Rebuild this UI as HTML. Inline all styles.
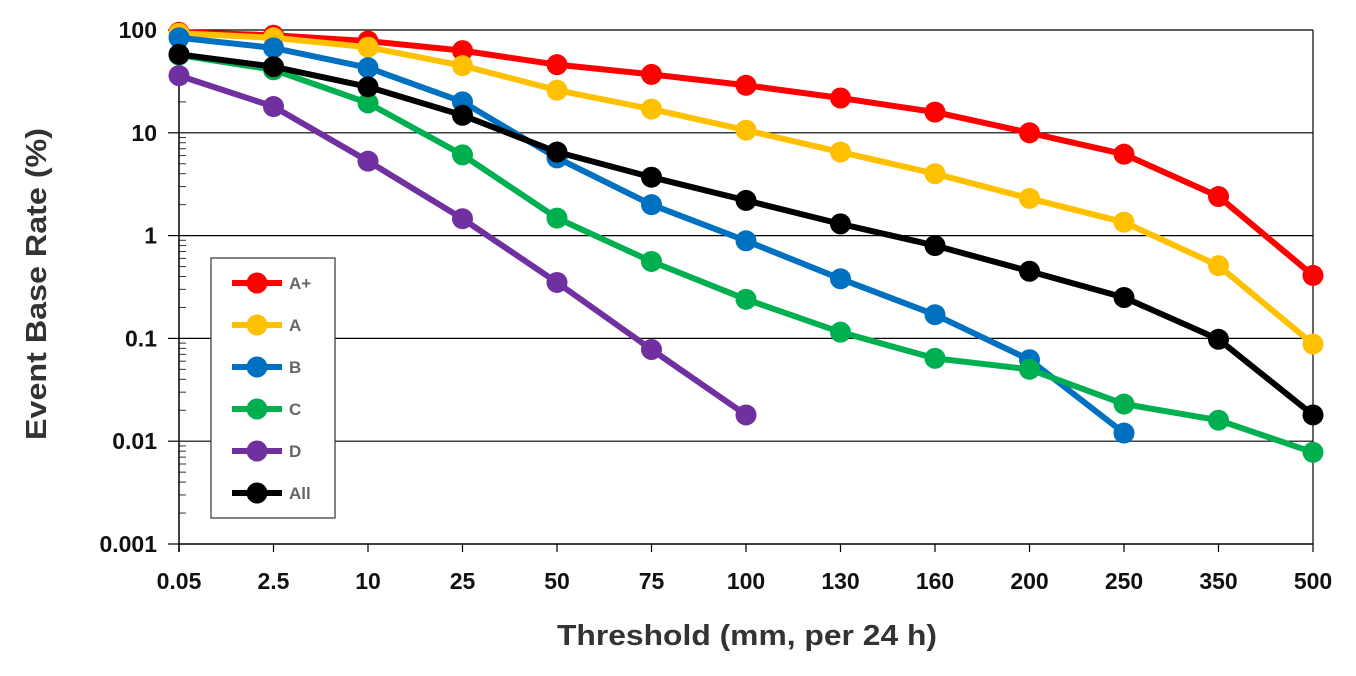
<!DOCTYPE html>
<html><head><meta charset="utf-8"><style>
body{margin:0;background:#fff;}
svg text{font-family:"Liberation Sans",sans-serif;font-weight:bold;}
</style></head><body>
<svg width="1356" height="671">
<g id="grid"></g>
<g id="axes"></g>
<g id="series"></g>
<g id="legend"></g>
<text x="747" y="645" font-size="29" fill="#333" text-anchor="middle" textLength="380" lengthAdjust="spacingAndGlyphs">Threshold (mm, per 24 h)</text>
<text transform="translate(46,284) rotate(-90)" font-size="29" fill="#333" text-anchor="middle" textLength="312" lengthAdjust="spacingAndGlyphs">Event Base Rate (%)</text>
</svg>
<script>
const categories=["0.05","2.5","10","25","50","75","100","130","160","200","250","350","500"];
const yTicks=[100,10,1,0.1,0.01,0.001];
const yTickLabels=["100","10","1","0.1","0.01","0.001"];
const seriesNames=["A+","A","B","C","D","All"];
const seriesColors=["#ff0000","#ffc000","#0070c0","#00b050","#7030a0","#000000"];
const valsAplus=[95,89,78,63,46,37,29,21.8,15.9,10,6.2,2.4,0.41];
const valsA=[93,84,68,45,26,17,10.6,6.5,4.0,2.3,1.35,0.51,0.088];
const valsB=[84,67,43,20,5.7,2.0,0.89,0.38,0.17,0.062,0.012];
const valsC=[57,41,19.5,6.1,1.48,0.56,0.24,0.115,0.064,0.05,0.023,0.016,0.0078];
const valsD=[36,18,5.3,1.46,0.35,0.078,0.018];
const valsAll=[58,44,28,14.8,6.5,3.7,2.2,1.3,0.8,0.45,0.25,0.098,0.018];
const allSeries=[valsAplus,valsA,valsB,valsC,valsD,valsAll];
const NS="http://www.w3.org/2000/svg";
const X0=179,X1=1313,Y100=30,DEC=102.8;
const xs=i=>X0+i*(X1-X0)/(categories.length-1);
const ys=v=>Y100+(2-Math.log10(v))*DEC;
function mk(p,t,a){const e=document.createElementNS(NS,t);for(const k in a)e.setAttribute(k,a[k]);p.appendChild(e);return e;}
const grid=document.getElementById('grid'),axes=document.getElementById('axes'),ser=document.getElementById('series'),leg=document.getElementById('legend');
yTicks.forEach((v,i)=>{
 const y=ys(v);
 if(i<yTicks.length-1){const g=mk(grid,'line',{x1:X0,x2:X1,y1:y,y2:y,stroke:'#000','stroke-width':1.2});
 
 }
 mk(axes,'line',{x1:168,x2:X0,y1:y,y2:y,stroke:'#000','stroke-width':1.2});
 const t=mk(axes,'text',{x:157,y:y+8,'font-size':23,'text-anchor':'end',fill:'#111'});
 t.textContent=yTickLabels[i];
 
 
 if(i<yTicks.length-1){for(let m=2;m<10;m++){const yy=ys(v/10*m);mk(axes,'line',{x1:X0,x2:X0+7,y1:yy,y2:yy,stroke:'#333','stroke-width':1});}}
});
mk(axes,'line',{x1:X1,x2:X1,y1:Y100,y2:ys(0.001),stroke:'#000','stroke-width':1.2});
mk(axes,'line',{x1:X0,x2:X0,y1:Y100,y2:ys(0.001)+8,stroke:'#000','stroke-width':1.5});
categories.forEach((c,i)=>{
 const x=xs(i);
 mk(axes,'line',{x1:x,x2:x,y1:ys(0.001),y2:ys(0.001)+8,stroke:'#000','stroke-width':1.2});
 const t=mk(axes,'text',{x:x,y:589,'font-size':23,'text-anchor':'middle',fill:'#111'});
 t.textContent=c;
 
 
});
mk(axes,'line',{x1:X0,x2:X1,y1:ys(0.001),y2:ys(0.001),stroke:'#000','stroke-width':1.5});
allSeries.forEach((vals,s)=>{
 const g=mk(ser,'g',{});
 
 
 const pts=vals.map((v,i)=>xs(i)+','+ys(v)).join(' ');
 mk(g,'polyline',{points:pts,fill:'none',stroke:seriesColors[s],'stroke-width':6,'stroke-linejoin':'round'});
 vals.forEach((v,i)=>{const c=mk(g,'circle',{cx:xs(i),cy:ys(v),r:10.5,fill:seriesColors[s]});
 
 });
});
const lb=mk(leg,'rect',{x:211,y:258,width:124,height:260,fill:'#fff',stroke:'#333','stroke-width':1.2});
seriesNames.forEach((n,i)=>{
 const y=283+i*42;
 const g=mk(leg,'g',{});
 
 
 mk(g,'line',{x1:232,x2:282,y1:y,y2:y,stroke:seriesColors[i],'stroke-width':6});
 mk(g,'circle',{cx:257,cy:y,r:10.5,fill:seriesColors[i]});
 const t=mk(g,'text',{x:289,y:y+6,'font-size':17,fill:'#666'});
 t.textContent=n;
});
</script>
</body></html>
